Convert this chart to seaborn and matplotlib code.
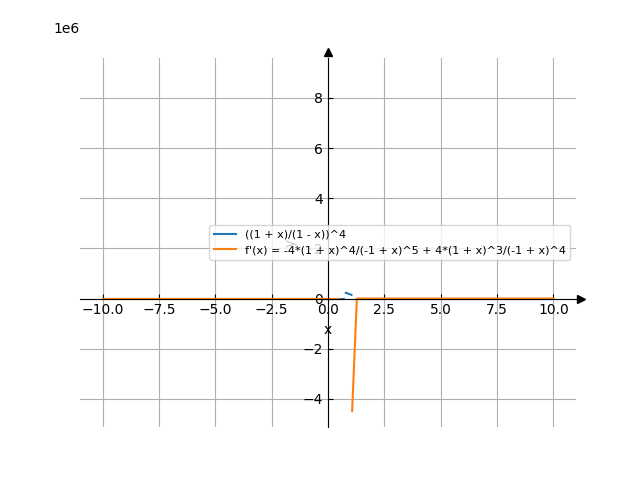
import matplotlib
matplotlib.use("Agg")
import matplotlib.pyplot as plt
import seaborn as sns
import pandas as pd

# Series (segments separated where the line breaks)
blue_label = "((1 + x)/(1 - x))^4"
orange_label = "f'(x) = -4*(1 + x)^4/(-1 + x)^5 + 4*(1 + x)^3/(-1 + x)^4"

blue_seg1_x = [-10.0, -5.0, 0.0, 0.5, 0.7]
blue_seg1_y = [0.0, 0.0, 0.0, 0.0, 0.0]
blue_seg2_x = [0.79, 1.04]
blue_seg2_y = [0.23e6, 0.15e6]
blue_seg3_x = [1.3, 5.0, 10.0]
blue_seg3_y = [0.0, 0.0, 0.0]

orange_seg1_x = [-10.0, -5.0, 0.0, 0.47]
orange_seg1_y = [0.0, 0.0, 0.0, 0.0]
orange_seg2_x = [1.07, 1.28, 5.0, 10.0]
orange_seg2_y = [-4.49e6, 0.0, 0.0, 0.0]

rows = []
for lab, seg, xs, ys in [
    (blue_label, 0, blue_seg1_x, blue_seg1_y),
    (blue_label, 1, blue_seg2_x, blue_seg2_y),
    (blue_label, 2, blue_seg3_x, blue_seg3_y),
    (orange_label, 3, orange_seg1_x, orange_seg1_y),
    (orange_label, 4, orange_seg2_x, orange_seg2_y),
]:
    for x, y in zip(xs, ys):
        rows.append({"x": x, "y": y, "label": lab, "seg": seg})
df = pd.DataFrame(rows)

fig, ax = plt.subplots(figsize=(6.4, 4.8), dpi=100)
sns.lineplot(data=df, x="x", y="y", hue="label", units="seg", estimator=None,
             sort=False, palette=["#1f77b4", "#ff7f0e"], ax=ax, linewidth=1.5)

ax.set_xlim(-11.0, 11.0)
ax.set_ylim(-5.13e6, 9.61e6)
ax.spines["left"].set_position("zero")
ax.spines["bottom"].set_position("zero")
ax.spines["right"].set_visible(False)
ax.spines["top"].set_visible(False)
ax.tick_params(direction="in")
ax.plot(1.01, 0, ">k", transform=ax.get_yaxis_transform(), clip_on=False)
ax.plot(0, 1.015, "^k", transform=ax.get_xaxis_transform(), clip_on=False)
ax.grid(True)
ax.set_xlabel("x")
ax.set_ylabel("y")
ax.yaxis.OFFSETTEXTPAD = 17.5
ax.yaxis.get_offset_text().set_horizontalalignment("right")
ax.legend(loc="center right", fontsize=8)

fig.savefig("out.png", dpi=100)
